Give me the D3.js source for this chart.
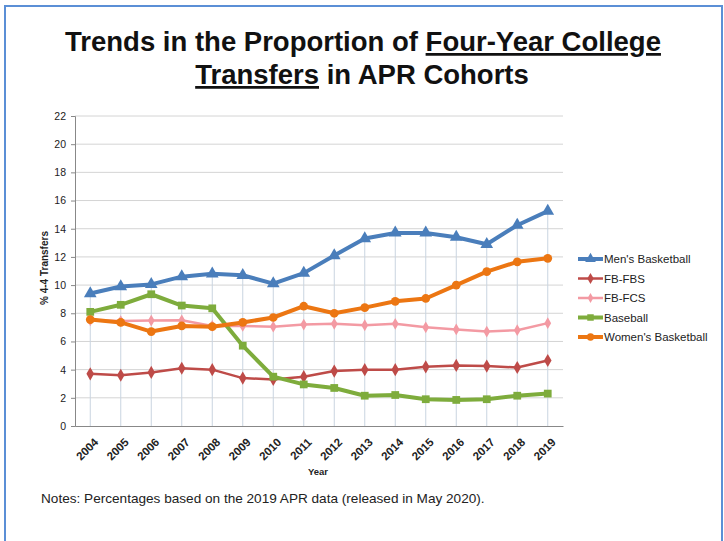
<!DOCTYPE html>
<html><head><meta charset="utf-8">
<script src="https://cdn.jsdelivr.net/npm/d3@7"></script>
<style>
html,body{margin:0;padding:0;background:#fff;}
svg{display:block;font-family:"Liberation Sans",Arial,sans-serif;}
</style></head>
<body>
<svg id="c" width="724" height="541"></svg>
<script>
const years = ["2004","2005","2006","2007","2008","2009","2010","2011","2012","2013","2014","2015","2016","2017","2018","2019"];
const seriesNames = ["Men's Basketball","FB-FBS","FB-FCS","Baseball","Women's Basketball"];
const mensBasketball  = [9.4, 9.9, 10.05, 10.6, 10.8, 10.7, 10.1, 10.85, 12.1, 13.3, 13.7, 13.7, 13.4, 12.9, 14.25, 15.25];
const fbFbs           = [3.7, 3.6, 3.8, 4.1, 4.0, 3.4, 3.3, 3.5, 3.9, 4.0, 4.0, 4.2, 4.3, 4.25, 4.15, 4.65];
const fbFcs           = [7.5, 7.45, 7.48, 7.5, 7.1, 7.1, 7.05, 7.2, 7.25, 7.15, 7.25, 7.0, 6.85, 6.7, 6.8, 7.3];
const baseball        = [8.1, 8.6, 9.35, 8.55, 8.35, 5.7, 3.5, 2.95, 2.7, 2.15, 2.2, 1.9, 1.85, 1.9, 2.15, 2.3];
const womensBasketball= [7.55, 7.35, 6.7, 7.1, 7.05, 7.35, 7.7, 8.5, 8.0, 8.4, 8.85, 9.05, 10.0, 10.95, 11.65, 11.9];
const yTicks = [0,2,4,6,8,10,12,14,16,18,20,22];

const seriesValues = [mensBasketball, fbFbs, fbFcs, baseball, womensBasketball];
const colors = ["#4a7ebb","#be4b48","#f39aa3","#7eac3c","#ec7612"];
const widths = [4, 2.5, 2.5, 4, 4];
const symbols = [d3.symbolTriangle, d3.symbolDiamond, d3.symbolDiamond, d3.symbolSquare, d3.symbolCircle];
const symSizes = [70, 50, 40, 60, 60];

const svg = d3.select("#c");

// frame
svg.append("rect").attr("x",5).attr("y",6).attr("width",717).attr("height",560)
  .attr("fill","none").attr("stroke","#5b8fd6").attr("stroke-width",2);

// title
const t = svg.append("text").attr("text-anchor","middle").attr("font-weight","bold")
  .attr("font-size",27.5).attr("fill","#111");
const l1 = t.append("tspan").attr("x",363).attr("y",51);
l1.append("tspan").text("Trends in the Proportion of ");
l1.append("tspan").attr("text-decoration","underline").text("Four-Year College");
const l2 = t.append("tspan").attr("x",362).attr("y",84);
l2.append("tspan").attr("text-decoration","underline").text("Transfers");
l2.append("tspan").text(" in APR Cohorts");

const x = d3.scaleBand().domain(years).range([75,563]);
const cx = d => x(d) + x.bandwidth()/2;
const y = d3.scaleLinear().domain([0,22]).range([426,116]);

// gridlines
svg.append("g").selectAll("line").data(yTicks.filter(v=>v>0)).join("line")
  .attr("x1",75).attr("x2",563).attr("y1",d=>y(d)).attr("y2",d=>y(d))
  .attr("stroke","#d4d4d4").attr("stroke-width",1);

// drop lines
svg.append("g").selectAll("line").data(years).join("line")
  .attr("x1",d=>cx(d)).attr("x2",d=>cx(d))
  .attr("y1",(d,i)=>y(d3.max(seriesValues,s=>s[i]))).attr("y2",y(0))
  .attr("stroke","#c9d4e0").attr("stroke-width",1);

// y axis
const ya = svg.append("g").attr("transform","translate(75,0)")
  .call(d3.axisLeft(y).tickValues(yTicks).tickSize(4).tickPadding(5));
ya.select(".domain").attr("stroke","#888");
ya.selectAll(".tick line").attr("stroke","#888");
ya.selectAll("text").attr("font-size",10.5).attr("fill","#222").attr("font-family","Liberation Sans, Arial, sans-serif");

// x axis
const xa = svg.append("g").attr("transform","translate(0,426)")
  .call(d3.axisBottom(x).tickSize(0).tickPadding(0));
xa.select(".domain").attr("stroke","#888").attr("stroke-width",1.2);
xa.selectAll("text").attr("font-size",11.5).attr("font-weight","bold").attr("fill","#222")
  .attr("font-family","Liberation Sans, Arial, sans-serif")
  .attr("text-anchor","end").attr("dy","0.35em")
  .attr("transform","translate(6,14) rotate(-45)")
  .attr("y",0).attr("x",0);

// axis titles
svg.append("text").attr("transform","translate(48,268) rotate(-90)").attr("text-anchor","middle")
  .attr("font-size",10).attr("font-weight","bold").attr("fill","#222").text("% 4-4 Transfers");
svg.append("text").attr("x",318).attr("y",475).attr("text-anchor","middle")
  .attr("font-size",9.5).attr("font-weight","bold").attr("fill","#222").text("Year");

// lines
const line = d3.line().x((d,i)=>cx(years[i])).y(d=>y(d));
const order = [2,1,3,4,0];
order.forEach(k=>{
  svg.append("path").datum(seriesValues[k]).attr("d",line)
    .attr("fill","none").attr("stroke",colors[k]).attr("stroke-width",widths[k])
    .attr("stroke-linejoin","round");
  svg.append("g").selectAll("path").data(seriesValues[k]).join("path")
    .attr("d",d3.symbol().type(symbols[k]).size(symSizes[k]))
    .attr("transform",(d,i)=>`translate(${cx(years[i])},${y(d)})`)
    .attr("fill",colors[k]);
});

// legend
const lg = svg.append("g");
seriesNames.forEach((n,k)=>{
  const yy = 259 + k*19.5;
  lg.append("line").attr("x1",578).attr("x2",603).attr("y1",yy).attr("y2",yy)
    .attr("stroke",colors[k]).attr("stroke-width",widths[k]);
  lg.append("path").attr("d",d3.symbol().type(symbols[k]).size(symSizes[k]*0.7))
    .attr("transform",`translate(590.5,${yy})`).attr("fill",colors[k]);
  lg.append("text").attr("x",604).attr("y",yy).attr("dy","0.35em")
    .attr("font-size",11.5).attr("fill","#222").text(n);
});

// notes
svg.append("text").attr("x",41).attr("y",503).attr("font-size",13.6).attr("fill","#222")
  .text("Notes: Percentages based on the 2019 APR data (released in May 2020).");
</script>
</body></html>
